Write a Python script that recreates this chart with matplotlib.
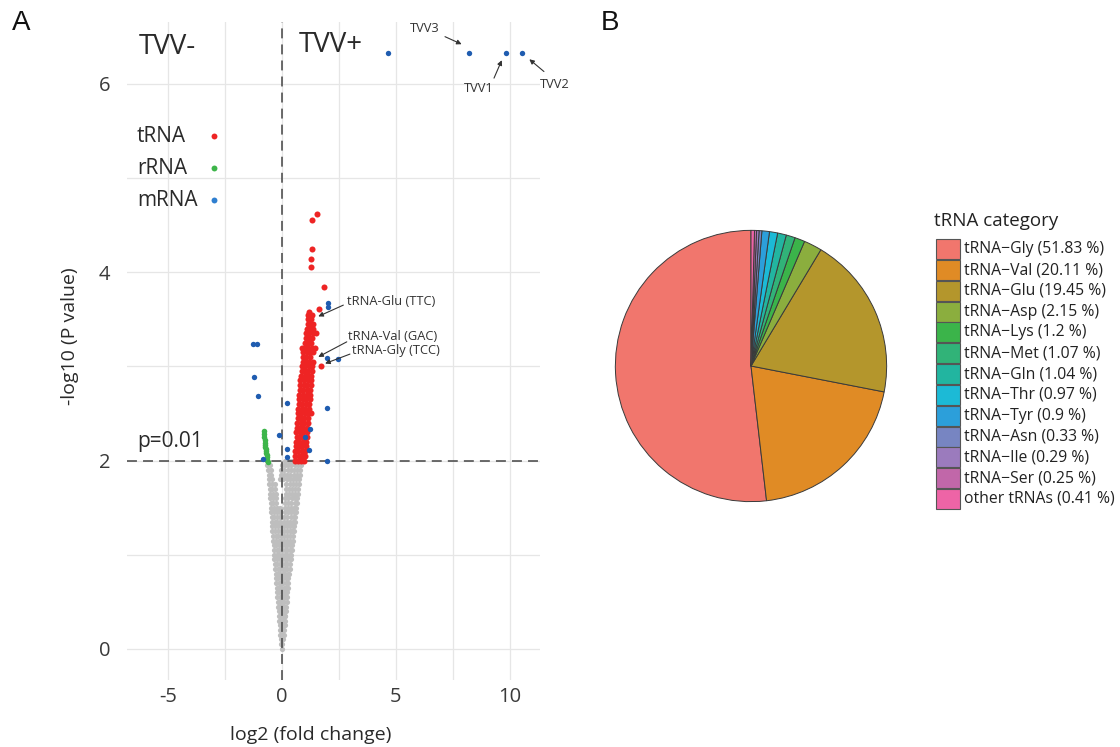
import matplotlib
matplotlib.use("Agg")
import matplotlib.pyplot as plt
from matplotlib.patches import Rectangle

plt.rcParams['font.family'] = ['Open Sans', 'DejaVu Sans']
plt.rcParams['axes.unicode_minus'] = False

# ---------------- Panel A: volcano plot data ----------------
# non-significant features, listed row by row: (-log10 p, [log2 fold changes])
grey_rows = [
    (0.00, [-0.01]),
    (0.05, [-0.03, 0.01]),
    (0.10, [-0.05, 0.02, 0.05]),
    (0.15, [-0.07, 0.00, 0.07]),
    (0.20, [-0.09, -0.01, 0.08]),
    (0.25, [-0.10, -0.02, 0.06, 0.11]),
    (0.30, [-0.12, -0.04, 0.05, 0.12]),
    (0.35, [-0.13, -0.05, 0.04, 0.13, 0.15]),
    (0.40, [-0.15, -0.06, 0.02, 0.10, 0.17]),
    (0.45, [-0.17, -0.08, 0.01, 0.09, 0.18]),
    (0.50, [-0.18, -0.09, 0.00, 0.10, 0.20]),
    (0.55, [-0.20, -0.10, -0.01, 0.09, 0.16, 0.23]),
    (0.60, [-0.22, -0.12, -0.02, 0.08, 0.17, 0.24]),
    (0.65, [-0.23, -0.14, -0.04, 0.07, 0.16, 0.25]),
    (0.70, [-0.25, -0.15, -0.05, 0.06, 0.17, 0.27]),
    (0.75, [-0.26, -0.16, -0.06, 0.05, 0.16, 0.28]),
    (0.80, [-0.28, -0.17, -0.07, 0.04, 0.15, 0.25, 0.31]),
    (0.85, [-0.30, -0.19, -0.08, 0.03, 0.14, 0.24, 0.33]),
    (0.90, [-0.31, -0.20, -0.09, 0.02, 0.13, 0.24, 0.35]),
    (0.95, [-0.33, -0.22, -0.11, 0.01, 0.12, 0.23, 0.34, 0.38]),
    (1.00, [-0.35, -0.23, -0.12, 0.00, 0.12, 0.24, 0.35, 0.40]),
    (1.05, [-0.36, -0.24, -0.13, -0.01, 0.11, 0.23, 0.34, 0.43]),
    (1.10, [-0.37, -0.26, -0.14, -0.02, 0.11, 0.22, 0.34, 0.45]),
    (1.15, [-0.39, -0.27, -0.15, -0.03, 0.10, 0.22, 0.35, 0.47]),
    (1.20, [-0.40, -0.28, -0.16, -0.04, 0.09, 0.22, 0.35, 0.49]),
    (1.25, [-0.42, -0.30, -0.18, -0.05, 0.08, 0.21, 0.34, 0.46, 0.52]),
    (1.30, [-0.43, -0.31, -0.19, -0.06, 0.09, 0.22, 0.35, 0.48, 0.54]),
    (1.35, [-0.44, -0.32, -0.20, -0.07, 0.09, 0.23, 0.37, 0.50, 0.56]),
    (1.40, [-0.46, -0.34, -0.21, -0.08, 0.10, 0.24, 0.38, 0.51, 0.58]),
    (1.45, [-0.47, -0.35, -0.23, -0.09, 0.11, 0.25, 0.39, 0.52, 0.60]),
    (1.50, [-0.48, -0.36, -0.24, -0.10, 0.12, 0.26, 0.40, 0.54, 0.62]),
    (1.55, [-0.50, -0.38, -0.26, 0.13, 0.27, 0.41, 0.55, 0.64]),
    (1.60, [-0.51, -0.39, -0.27, 0.14, 0.28, 0.42, 0.56, 0.66]),
    (1.65, [-0.53, -0.41, -0.28, 0.16, 0.30, 0.44, 0.58, 0.69]),
    (1.70, [-0.54, -0.42, -0.29, 0.17, 0.31, 0.45, 0.59, 0.71]),
    (1.75, [-0.56, -0.44, -0.30, 0.19, 0.33, 0.47, 0.61, 0.74]),
    (1.80, [-0.57, -0.45, -0.08, 0.06, 0.21, 0.35, 0.49, 0.63, 0.76]),
    (1.85, [-0.59, -0.47, -0.06, 0.08, 0.23, 0.37, 0.51, 0.65, 0.78]),
    (1.90, [-0.62, -0.49, -0.04, 0.10, 0.25, 0.39, 0.53, 0.67, 0.81]),
    (1.95, [-0.65, -0.51, -0.02, 0.12, 0.27, 0.41, 0.55, 0.69, 0.83]),
    (2.00, [-0.68, 0.14, 0.29, 0.43, 0.57, 0.71, 0.85]),
]

# significant tRNA features
trna_rows = [
    (2.00, [0.56, 0.70, 0.84, 0.98]),
    (2.05, [0.59, 0.73, 0.87, 1.01]),
    (2.10, [0.58, 0.72, 0.86, 1.00]),
    (2.15, [0.61, 0.75, 0.89, 1.04]),
    (2.20, [0.62, 0.76, 0.90, 1.06]),
    (2.25, [0.64, 0.78, 0.92, 1.08]),
    (2.30, [0.63, 0.77, 0.92, 1.10]),
    (2.35, [0.66, 0.80, 0.94, 1.09]),
    (2.40, [0.67, 0.82, 0.97, 1.12]),
    (2.45, [0.68, 0.83, 0.98, 1.14]),
    (2.50, [0.70, 0.85, 1.00, 1.16, 1.28]),
    (2.55, [0.72, 0.87, 1.02, 1.17]),
    (2.60, [0.74, 0.89, 1.04, 1.19]),
    (2.65, [0.75, 0.90, 1.05, 1.21]),
    (2.70, [0.76, 0.92, 1.08, 1.23]),
    (2.75, [0.78, 0.94, 1.09, 1.24]),
    (2.80, [0.80, 0.95, 1.11, 1.26]),
    (2.85, [0.81, 0.97, 1.13, 1.27]),
    (2.90, [0.84, 0.99, 1.14, 1.29]),
    (2.95, [0.86, 1.01, 1.16, 1.31]),
    (3.00, [0.88, 1.03, 1.18, 1.33, 1.71]),
    (3.05, [0.90, 1.05, 1.20, 1.35]),
    (3.10, [0.92, 1.07, 1.22]),
    (3.15, [0.94, 1.09, 1.24, 1.37]),
    (3.20, [0.89, 1.02, 1.16, 1.31, 1.46]),
    (3.25, [0.99, 1.14, 1.28]),
    (3.30, [1.04, 1.18, 1.32]),
    (3.35, [1.06, 1.20, 1.34, 1.48]),
    (3.40, [1.09, 1.23, 1.37]),
    (3.45, [1.12, 1.26, 1.38]),
    (3.50, [1.14, 1.28]),
    (3.55, [1.16, 1.32]),
    (3.58, [1.19]),
    (3.61, [1.62]),
    (3.84, [1.85]),
    (4.05, [1.27]),
    (4.14, [1.25]),
    (4.25, [1.31]),
    (4.55, [1.33]),
    (4.62, [1.52]),
]

# significant rRNA features
rrna_lfc = [-0.79, -0.78, -0.77, -0.76, -0.75, -0.74, -0.73, -0.72,
            -0.71, -0.70, -0.68, -0.66, -0.64, -0.62]
rrna_p = [2.31, 2.28, 2.25, 2.22, 2.19, 2.17, 2.14, 2.12,
          2.10, 2.08, 2.06, 2.04, 2.01, 1.98]

# significant mRNA features
mrna_lfc = [-1.29, -1.11, -1.22, -1.04, 0.20, 2.03, 2.03, 1.98, 2.47, 1.98,
            -0.12, 1.22, 1.00, 1.19, 0.20, 0.24, -0.85, 1.98,
            4.66, 8.22, 9.82, 10.53]
mrna_p = [3.24, 3.24, 2.89, 2.69, 2.61, 3.67, 3.63, 3.09, 3.08, 2.56,
          2.27, 2.33, 2.25, 2.11, 2.12, 2.04, 2.02, 2.00,
          6.33, 6.33, 6.33, 6.33]

p_cutoff = 2.0          # -log10(0.01)
x_ticks = [-5, 0, 5, 10]
y_ticks = [0, 2, 4, 6]

# ---------------- Panel B: tRNA composition ----------------
trna_types = ['tRNA−Gly', 'tRNA−Val', 'tRNA−Glu', 'tRNA−Asp', 'tRNA−Lys',
              'tRNA−Met', 'tRNA−Gln', 'tRNA−Thr', 'tRNA−Tyr', 'tRNA−Asn',
              'tRNA−Ile', 'tRNA−Ser', 'other tRNAs']
trna_pct = [51.83, 20.11, 19.45, 2.15, 1.2, 1.07, 1.04, 0.97, 0.9,
            0.33, 0.29, 0.25, 0.41]
trna_colors = ['#F1766D', '#E08B25', '#B4962C', '#8BAE3E', '#3BB44A',
               '#31B378', '#22B5A0', '#1CBAD6', '#2C9FDA', '#7785C2',
               '#9B7BBD', '#C167A9', '#EE64A6']

W, H = 1120, 747
fig = plt.figure(figsize=(W / 100, H / 100), dpi=100)


def fx(px):
    return px / W


def fy(py):
    return 1 - py / H


# ---------- volcano ----------
ax = fig.add_axes([fx(127), fy(680), (539.6 - 127) / W, (680 - 21.6) / H])
ax.set_xlim(-6.8, 11.3)
ax.set_ylim(-0.33, 6.66)
for s in ax.spines.values():
    s.set_visible(False)
ax.set_facecolor('white')

grid_c = '#E6E6E6'
for gx in [-5, -2.5, 0, 2.5, 5, 7.5, 10]:
    ax.axvline(gx, color=grid_c, lw=0.9, zorder=0)
for gy in range(0, 7):
    ax.axhline(gy, color=grid_c, lw=0.9, zorder=0)

gx_all = [x for y, xs in grey_rows for x in xs]
gy_all = [y for y, xs in grey_rows for x in xs]
ax.scatter(gx_all, gy_all, s=14, color='#BEBEBE', lw=0, zorder=2)

ax.axvline(0, color='#444444', lw=1.1, ls=(0, (6.5, 4)), zorder=2.5)
ax.axhline(p_cutoff, color='#444444', lw=1.1, ls=(0, (6.5, 4)), zorder=2.5)

ax.scatter(rrna_lfc, rrna_p, s=16, color='#3DB54A', lw=0, zorder=3)
tx = [x for y, xs in trna_rows for x in xs]
ty = [y for y, xs in trna_rows for x in xs]
ax.scatter(tx, ty, s=19, color='#EE2424', lw=0, zorder=3)
ax.scatter(mrna_lfc, mrna_p, s=15, color='#1F5CB0', lw=0, zorder=4)

ax.set_xticks(x_ticks)
ax.set_yticks(y_ticks)
ax.set_xticklabels([str(v) for v in x_ticks])
ax.set_yticklabels([str(v) for v in y_ticks])
ax.tick_params(axis='both', length=0, labelsize=14.5, colors='#3A3A3A')
ax.tick_params(axis='x', pad=5)
ax.tick_params(axis='y', pad=12)

ax.set_xlabel('log2 (fold change)', fontsize=14, color='#2A2A2A')
ax.xaxis.set_label_coords((311 - 127) / 412.6, (680 - 735) / 658.4)
ax.xaxis.label.set_va('center')
ax.set_ylabel('-log10 (P value)', fontsize=14, color='#2A2A2A')
ax.yaxis.set_label_coords((70 - 127) / 412.6, (680 - 336) / 658.4)
ax.yaxis.label.set_va('center')


def ax_pt(px, py):
    return ((px - 127) / 412.6, (680 - py) / 658.4)


# group labels
ax.text(*ax_pt(139, 47), 'TVV-', transform=ax.transAxes, fontsize=20,
        va='center', ha='left', color='#2A2A2A')
ax.text(*ax_pt(299, 45), 'TVV+', transform=ax.transAxes, fontsize=20,
        va='center', ha='left', color='#2A2A2A')

# class key
for name, col, py in [('tRNA', '#EE2424', 136), ('rRNA', '#3DB54A', 168),
                      ('mRNA', '#2F7FD0', 200)]:
    ax.text(*ax_pt(137, py), name, transform=ax.transAxes, fontsize=15,
            va='center', ha='left', color='#2A2A2A')
    ax.scatter(*ax_pt(213.5, py - 0.5), transform=ax.transAxes, s=18,
               color=col, lw=0, clip_on=False, zorder=5)

ax.text(*ax_pt(137, 442), 'p=0.01', transform=ax.transAxes, fontsize=15,
        va='center', ha='left', color='#2A2A2A')

# labelled features
arrow_kw = dict(arrowstyle='-|>', color='#333333', lw=0.8,
                mutation_scale=7, shrinkA=0, shrinkB=0)
labels = [
    ('TVV3', (6.27, 6.59), 'center', (7.15, 6.50), (7.88, 6.42)),
    ('TVV1', (8.61, 5.95), 'center', (9.30, 6.06), (9.64, 6.25)),
    ('TVV2', (11.97, 5.99), 'center', (11.49, 6.13), (10.85, 6.26)),
    ('tRNA-Glu (TTC)', (2.84, 3.69), 'left', (2.69, 3.65), (1.59, 3.53)),
    ('tRNA-Val (GAC)', (2.89, 3.32), 'left', (2.84, 3.26), (1.59, 3.10)),
    ('tRNA-Gly (TCC)', (3.07, 3.17), 'left', (2.98, 3.13), (1.89, 3.03)),
]
for txt, pos, ha, tail, head in labels:
    ax.text(pos[0], pos[1], txt, fontsize=9.3, ha=ha, va='center',
            color='#333333', zorder=6, clip_on=False)
    ax.annotate('', xy=head, xytext=tail, arrowprops=arrow_kw,
                annotation_clip=False, zorder=6)

# ---------- pie ----------
axp = fig.add_axes([fx(614), fy(503), 274 / W, 274 / H])
axp.pie(trna_pct, colors=trna_colors, startangle=90, counterclock=True,
        radius=1.0, wedgeprops=dict(edgecolor='#3A3A3A', linewidth=0.7))
axp.set_xlim(-1.01, 1.01)
axp.set_ylim(-1.01, 1.01)
axp.set_aspect('equal')
axp.axis('off')

# colour key for the pie
fig.text(fx(934), fy(220.5), 'tRNA category', fontsize=13.5, ha='left',
         va='center', color='#222222')
for i, (name, pct, col) in enumerate(zip(trna_types, trna_pct, trna_colors)):
    top = 239.3 + i * 20.8
    fig.patches.append(Rectangle((fx(936), fy(top + 20)), 24 / W, 20 / H,
                                 transform=fig.transFigure, facecolor=col,
                                 edgecolor='#555555', lw=0.8))
    fig.text(fx(964), fy(top + 10), f'{name} ({pct:g} %)', fontsize=11.3,
             ha='left', va='center', color='#222222')

# panel letters
fig.text(fx(12), fy(23), 'A', fontsize=20, ha='left', va='center',
         family='Liberation Sans', color='#111111')
fig.text(fx(601), fy(23), 'B', fontsize=20, ha='left', va='center',
         family='Liberation Sans', color='#111111')

fig.savefig('out.png', dpi=100, facecolor='white')
